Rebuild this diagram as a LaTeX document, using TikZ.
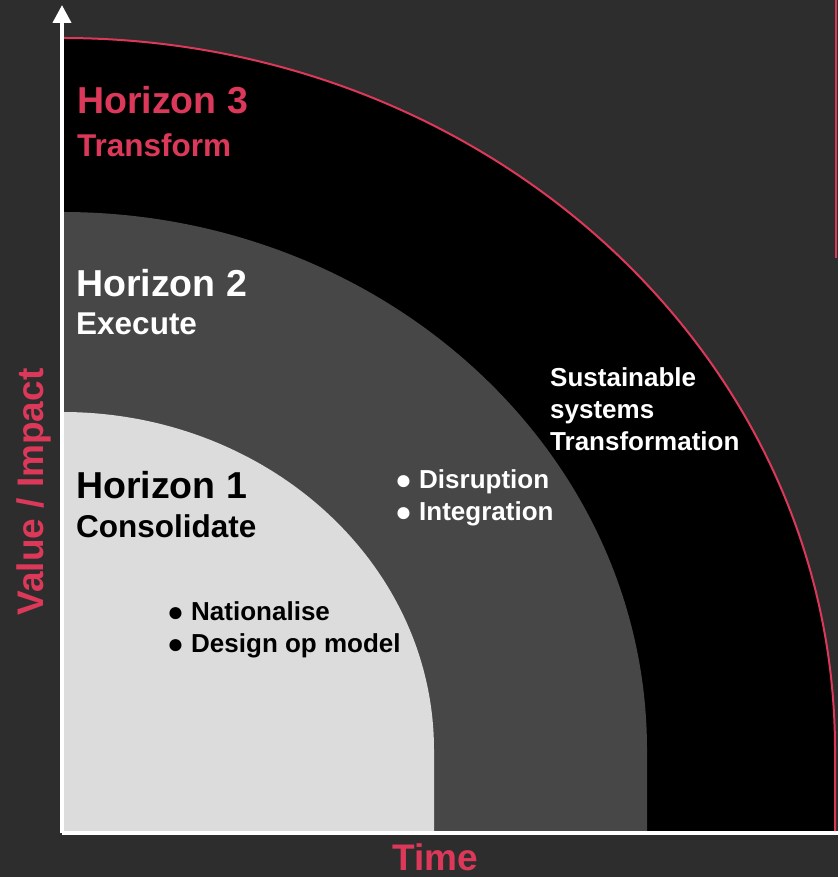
\documentclass[tikz,border=0pt]{standalone}
\usepackage{fontspec}
\setmainfont{Liberation Sans}
\usetikzlibrary{arrows.meta}
\definecolor{bgdark}{RGB}{45,45,45}
\definecolor{midgrey}{RGB}{71,71,71}
\definecolor{lightgrey}{RGB}{220,220,220}
\definecolor{hred}{RGB}{220,56,90}
\newcommand{\hbullet}{\makebox[24pt][l]{\fontsize{28}{28}\selectfont\raisebox{-1pt}{●}}}

\tikzset{
	title/.style={anchor=base west,inner sep=0pt,font=\fontsize{37.5}{37.5}\selectfont\bfseries},
	subtitle/.style={anchor=base west,inner sep=0pt,font=\fontsize{31.5}{31.5}\selectfont\bfseries},
	points/.style={anchor=base west,inner sep=0pt,align=left,font=\fontsize{26}{32}\selectfont\bfseries},
	axislabel/.style={anchor=base,inner sep=0pt,text=hred,font=\fontsize{37}{37}\selectfont\bfseries},
	axis/.style={white,line width=4pt,-{Triangle[width=18pt,length=18pt]}}
}

\begin{document}
\begin{tikzpicture}[x=1pt,y=1pt]
	% background
	\fill[bgdark] (0,0) rectangle (838,877);
	\clip (0,0) rectangle (838,877);
	% the three horizons, outermost first
	\fill[black] (62,44) -- (62,839) arc[start angle=90,end angle=0,x radius=773,y radius=712] -- (835,44) -- cycle;
	\draw[hred,line width=2pt] (62,839) arc[start angle=90,end angle=0,x radius=773,y radius=712] -- (835,44);
	\fill[midgrey] (62,44) -- (62,665) arc[start angle=90,end angle=0,x radius=585,y radius=538] -- (647,44) -- cycle;
	\fill[lightgrey] (62,44) -- (62,465) arc[start angle=90,end angle=0,x radius=372,y radius=338] -- (434,44) -- cycle;
	% red mark at the right edge
	\draw[hred,line width=2pt] (836,877) -- (836,619);
	% the axes
	\coordinate (origin) at (62,44);
	\coordinate (ytip) at (62,872);
	\coordinate (xtip) at (856,44);
	\draw[axis] (origin) -- (ytip);
	\draw[axis] (origin) -- (xtip);
	%% the labels (a list node sits on the baseline of its last line)
	\node[title,text=hred] (h3) at (77,763) {Horizon 3};
	\node[subtitle,text=hred] (h3sub) at ([yshift=-43pt]h3.base west) {Transform};
	\node[title,text=white] (h2) at (76,580) {Horizon 2};
	\node[subtitle,text=white] (h2sub) at ([yshift=-38pt]h2.base west) {Execute};
	\node[title,text=black] (h1) at (76,378) {Horizon 1};
	\node[subtitle,text=black] (h1sub) at ([yshift=-39pt]h1.base west) {Consolidate};
	\node[points,text=black] (h1list) at (167,224) {\hbullet Nationalise\\\hbullet Design op model};
	\node[points,text=white] (h2list) at (395,356) {\hbullet Disruption\\\hbullet Integration};
	\node[points,text=white] (h3list) at (550,426) {Sustainable\\systems\\Transformation};
	\node[axislabel,rotate=90] (ylabel) at (43,385) {Value / Impact};
	\node[axislabel] (xlabel) at (435.5,6) {Time};
\end{tikzpicture}
\end{document}
